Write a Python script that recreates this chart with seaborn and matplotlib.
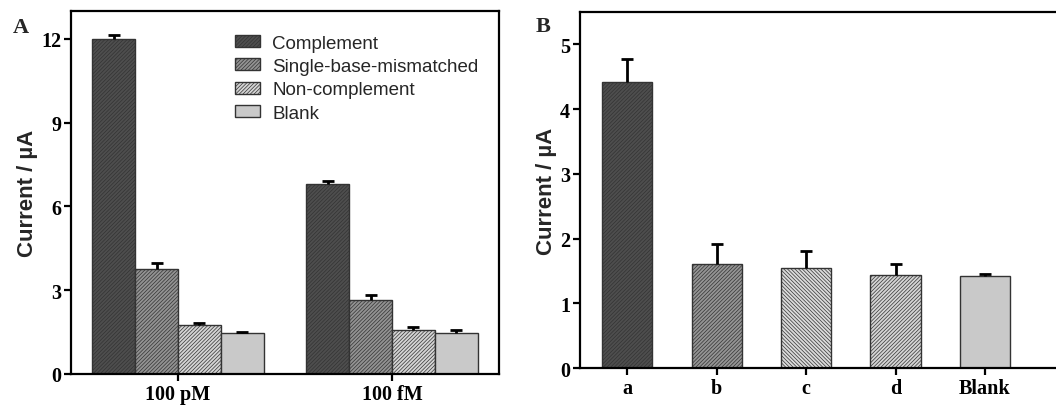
import numpy as np
import pandas as pd
import matplotlib
matplotlib.use("Agg")
import matplotlib.pyplot as plt
import seaborn as sns
from matplotlib.container import BarContainer
from matplotlib.font_manager import FontProperties

sns.set_theme(style="ticks")
plt.rcParams["font.family"] = ["Liberation Sans", "DejaVu Sans"]
plt.rcParams["hatch.linewidth"] = 0.5

# Panel A data
concs = ["100 pM", "100 fM"]
targets = ["Complement", "Single-base-mismatched", "Non-complement", "Blank"]
vals_pm = [12.0, 3.75, 1.76, 1.46]
vals_fm = [6.82, 2.64, 1.58, 1.46]
err_pm = [0.15, 0.22, 0.06, 0.04]
err_fm = [0.10, 0.18, 0.12, 0.10]

# Panel B data
probes = ["a", "b", "c", "d", "Blank"]
vals_b = [4.42, 1.60, 1.54, 1.44, 1.42]
err_b = [0.35, 0.31, 0.27, 0.17, 0.03]

colors_a = ["#4e4e4e", "#929292", "#d4d4d4", "#c9c9c9"]
hatch_a = ["/////////", "/////////", "/////////", ""]
colors_b = ["#4e4e4e", "#949494", "#dadada", "#d4d4d4", "#c9c9c9"]
hatch_b = ["/////////", "/////////", "\\" * 9, "/////////", ""]

tick_font = dict(family="Liberation Serif", weight="bold", size=14.5)


def up_errorbar(ax, bar, e):
    xc = bar.get_x() + bar.get_width() / 2
    _, caps, _ = ax.errorbar(xc, bar.get_height(), yerr=[[0], [e]], fmt="none",
                             ecolor="black", elinewidth=2, capsize=4,
                             capthick=2)
    caps[0].set_visible(False)  # only the upper cap, as in the original


fig = plt.figure(figsize=(10.56, 4.06), dpi=100)
axA = fig.add_axes([0.0672, 0.0764, 0.4053, 0.894])
axB = fig.add_axes([0.549, 0.0911, 0.46, 0.877])

# ---- Panel A
dfA = pd.DataFrame({
    "conc": np.repeat(concs, len(targets)),
    "target": targets * len(concs),
    "value": vals_pm + vals_fm,
    "err": err_pm + err_fm,
})
sns.barplot(data=dfA, x="conc", y="value", hue="target", hue_order=targets,
            palette=colors_a, edgecolor="#333333", linewidth=1.0,
            errorbar=None, width=0.8, saturation=1, ax=axA)

bar_conts = [c for c in axA.containers if isinstance(c, BarContainer)]
for cont, h, t in zip(bar_conts, hatch_a, targets):
    errs = dfA[dfA.target == t].set_index("conc").loc[concs, "err"].values
    for bar, e in zip(cont, errs):
        bar.set_hatch(h)
        up_errorbar(axA, bar, e)

axA.legend(handles=[c.patches[0] for c in bar_conts], labels=targets,
           loc="upper left", bbox_to_anchor=(0.383, 0.935), frameon=False,
           fontsize=13.5, handlelength=1.35, handleheight=0.6,
           labelspacing=0.34, borderpad=0, borderaxespad=0,
           handletextpad=0.65)

axA.set_xlim(-0.5, 1.5)
axA.set_ylim(0, 13)
axA.set_yticks([0, 3, 6, 9, 12])
axA.set_xlabel("")
axA.set_ylabel("Current / µA", fontsize=16, fontweight="bold", labelpad=2)
axA.text(-0.135, 0.955, "A", transform=axA.transAxes, ha="left", va="center",
         family="Liberation Serif", weight="bold", size=16)

# ---- Panel B
sns.barplot(x=probes, y=vals_b, hue=probes, palette=colors_b, legend=False,
            edgecolor="#333333", linewidth=1.0, width=0.56, saturation=1,
            ax=axB)
bars_b = [p for c in axB.containers if isinstance(c, BarContainer) for p in c]
for bar, h, e in zip(bars_b, hatch_b, err_b):
    bar.set_hatch(h)
    up_errorbar(axB, bar, e)

axB.set_xlim(-0.53, 4.9)
axB.set_ylim(0, 5.5)
axB.set_yticks([0, 1, 2, 3, 4, 5])
axB.set_ylabel("Current / µA", fontsize=16, fontweight="bold", labelpad=2)
axB.text(-0.09, 0.96, "B", transform=axB.transAxes, ha="left", va="center",
         family="Liberation Serif", weight="bold", size=16)

for ax in (axA, axB):
    for s in ax.spines.values():
        s.set_linewidth(1.6)
        s.set_color("black")
    ax.tick_params(direction="out", length=5, width=1.6, colors="black", pad=2)
    for lab in ax.get_xticklabels() + ax.get_yticklabels():
        lab.set_fontproperties(FontProperties(**tick_font))
axB.spines["right"].set_visible(False)

fig.savefig("out.png", dpi=100)
